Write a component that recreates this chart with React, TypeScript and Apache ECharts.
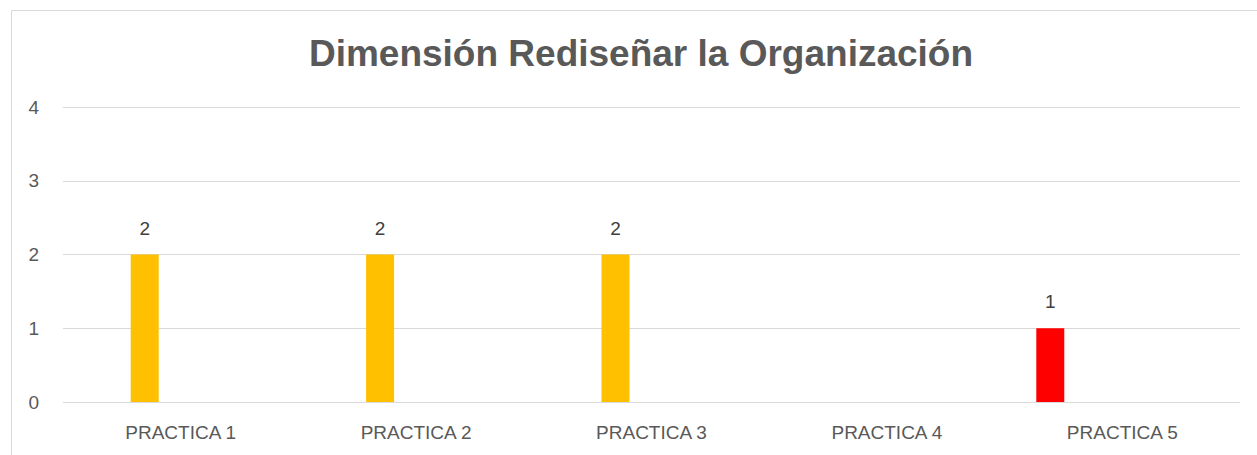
import React, { useEffect, useRef } from "react";
import * as echarts from "echarts";

const titleText = "Dimensión Rediseñar la Organización";
const categories = ["PRACTICA 1", "PRACTICA 2", "PRACTICA 3", "PRACTICA 4", "PRACTICA 5"];
const redSeries = [null, null, null, null, 1];
const yellowSeries = [2, 2, 2, null, null];
const emptyA = [null, null, null, null, null];
const emptyB = [null, null, null, null, null];
const emptyC = [null, null, null, null, null];
const yTicks = { min: 0, max: 4, interval: 1 };

export default function App() {
  const ref = useRef<HTMLDivElement>(null);
  useEffect(() => {
    if (!ref.current) return;
    const chart = echarts.init(ref.current, undefined, { renderer: "svg" });
    const label = {
      show: true,
      position: "top",
      distance: 17,
      fontSize: 19,
      color: "#404040",
      fontFamily: "Liberation Sans, Arial, sans-serif",
    };
    const mk = (name: string, data: (number | null)[], color: string) => ({
      name,
      type: "bar",
      data,
      barWidth: 28,
      barGap: "28.6%",
      itemStyle: { color },
      label,
    });
    chart.setOption({
      animation: false,
      backgroundColor: "#ffffff",
      graphic: [
        {
          type: "rect",
          shape: { x: 11.5, y: 10.5, width: 1400, height: 600 },
          style: { fill: "none", stroke: "#d9d9d9", lineWidth: 1 },
          silent: true,
        },
        {
          type: "text",
          x: 641,
          y: 53,
          style: {
            text: titleText,
            textAlign: "center",
            textVerticalAlign: "middle",
            fontSize: 37,
            fontWeight: "bold",
            fontFamily: "Liberation Sans, Arial, sans-serif",
            fill: "#595959",
          },
        },
      ],
      grid: { left: 63, right: 17, top: 107, bottom: 53, containLabel: false },
      xAxis: {
        type: "category",
        data: categories,
        axisLine: { show: false },
        axisTick: { show: false },
        axisLabel: {
          fontSize: 19,
          color: "#595959",
          margin: 21,
          fontFamily: "Liberation Sans, Arial, sans-serif",
        },
      },
      yAxis: {
        type: "value",
        min: yTicks.min,
        max: yTicks.max,
        interval: yTicks.interval,
        axisLine: { show: false },
        axisTick: { show: false },
        splitLine: { lineStyle: { color: "#d9d9d9", width: 1 } },
        axisLabel: {
          fontSize: 19,
          color: "#595959",
          margin: 24,
          fontFamily: "Liberation Sans, Arial, sans-serif",
        },
      },
      series: [
        mk("S1", redSeries, "#ff0000"),
        mk("S2", yellowSeries, "#ffc000"),
        mk("S3", emptyA, "#4472c4"),
        mk("S4", emptyB, "#70ad47"),
        mk("S5", emptyC, "#a5a5a5"),
      ],
    });
    return () => chart.dispose();
  }, []);
  return (
    <div
      ref={ref}
      style={{ position: "fixed", left: 0, top: 0, width: 1257, height: 455 }}
    />
  );
}
